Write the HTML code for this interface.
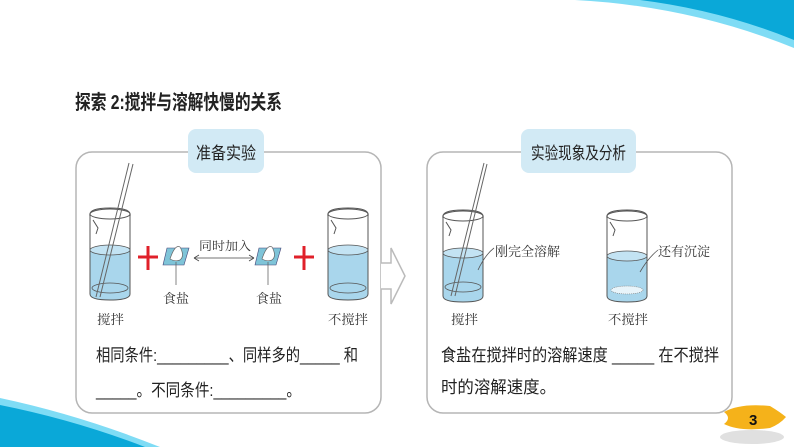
<!DOCTYPE html>
<html><head><meta charset="utf-8"><style>
html,body{margin:0;padding:0;background:#fff;}
svg{display:block;}
text{font-family:"Liberation Sans","Noto Sans CJK SC",sans-serif;fill:#222;}
.s{font-family:"Liberation Serif","Noto Serif CJK SC",serif;fill:#333;}
</style></head><body>
<svg width="794" height="447" viewBox="0 0 794 447" xmlns="http://www.w3.org/2000/svg">
<defs>
<g id="beaker">
  <path d="M0,8 Q-2,0 20,0 Q42,0 40,8 L40,86 Q40,92 20,92 Q0,92 0,86 Z" fill="none" stroke="#555" stroke-width="1"/>
  <ellipse cx="20" cy="6" rx="20" ry="5" fill="none" stroke="#555" stroke-width="1"/>
  <path d="M3,12 L8,20 L6,26" fill="none" stroke="#555" stroke-width="1"/>
</g>
</defs>
<path d="M575,0 Q690,6 794,48 L794,0 Z" fill="#7fdcf5"/>
<path d="M640,0 Q720,10 794,40 L794,0 Z" fill="#0aa8d8"/>
<path d="M0,398 Q80,415 160,447 L0,447 Z" fill="#7fdcf5"/>
<path d="M0,405 Q75,420 145,447 L0,447 Z" fill="#0aa8d8"/>

<text x="75" y="109" font-size="20" textLength="207" lengthAdjust="spacingAndGlyphs" font-weight="bold">探索 2:搅拌与溶解快慢的关系</text>

<rect x="76" y="152" width="305" height="261" rx="16" fill="#fff" stroke="#b5b5b5" stroke-width="1.5"/>
<rect x="427" y="152" width="305" height="261" rx="16" fill="#fff" stroke="#b5b5b5" stroke-width="1.5"/>
<rect x="188" y="129" width="76" height="44" rx="8" fill="#d2eaf5"/>
<rect x="521" y="129" width="115" height="44" rx="8" fill="#d2eaf5"/>
<text x="196" y="159" font-size="17" textLength="60" lengthAdjust="spacingAndGlyphs">准备实验</text>
<text x="531" y="159" font-size="17" textLength="95" lengthAdjust="spacingAndGlyphs">实验现象及分析</text>

<path d="M381,263 L391,263 L391,248 L405,276 L391,304 L391,289 L381,289" fill="#fff" stroke="#bbb" stroke-width="1.5"/>

<!-- left beakers -->
<path d="M90,250 L130,250 L130,294 Q130,300 110,300 Q90,300 90,294 Z" fill="#a9d6ec"/>
<use href="#beaker" x="90" y="208"/>
<ellipse cx="110" cy="250" rx="20" ry="5" fill="#c3e3f3" stroke="#555" stroke-width="0.8"/>
<ellipse cx="110" cy="288" rx="18" ry="5" fill="none" stroke="#555" stroke-width="0.8"/>
<path d="M129,163 L96,297 M133,164 L100,297" stroke="#666" stroke-width="1"/>
<path d="M328,250 L368,250 L368,294 Q368,300 348,300 Q328,300 328,294 Z" fill="#a9d6ec"/>
<use href="#beaker" x="328" y="208"/>
<ellipse cx="348" cy="250" rx="20" ry="5" fill="#c3e3f3" stroke="#555" stroke-width="0.8"/>
<ellipse cx="348" cy="288" rx="18" ry="5" fill="none" stroke="#555" stroke-width="0.8"/>

<path d="M138,257 L158,257 M148,246 L148,270" stroke="#e0202a" stroke-width="3"/>
<path d="M294,257 L314,257 M304,246 L304,270" stroke="#e0202a" stroke-width="3"/>

<path d="M167,248 L189,248 L184,265 L163,265 Z" fill="#7fc4d8" stroke="#447" stroke-width="0.6"/>
<path d="M170,259 Q175,244 180,247 Q185,256 180,260 Q175,262 170,259 Z" fill="#fff" stroke="#666" stroke-width="0.7"/>
<line x1="176" y1="262" x2="176" y2="285" stroke="#666" stroke-width="0.8"/>
<path d="M259,248 L281,248 L276,265 L255,265 Z" fill="#7fc4d8" stroke="#447" stroke-width="0.6"/>
<path d="M262,259 Q267,244 272,247 Q277,256 272,260 Q267,262 262,259 Z" fill="#fff" stroke="#666" stroke-width="0.7"/>
<line x1="268" y1="262" x2="268" y2="285" stroke="#666" stroke-width="0.8"/>
<line x1="194" y1="258" x2="254" y2="258" stroke="#444" stroke-width="0.8"/>
<path d="M194,258 L199,255 M194,258 L199,261 M254,258 L249,255 M254,258 L249,261" stroke="#444" stroke-width="0.8"/>
<text class="s" x="199" y="250" font-size="12" textLength="52" lengthAdjust="spacingAndGlyphs">同时加入</text>
<text class="s" x="163" y="303" font-size="13" textLength="26" lengthAdjust="spacingAndGlyphs">食盐</text>
<text class="s" x="256" y="303" font-size="13" textLength="26" lengthAdjust="spacingAndGlyphs">食盐</text>
<text class="s" x="97" y="324" font-size="13" textLength="27" lengthAdjust="spacingAndGlyphs">搅拌</text>
<text class="s" x="328" y="324" font-size="13" textLength="40" lengthAdjust="spacingAndGlyphs">不搅拌</text>

<text x="96" y="361" font-size="17" textLength="262" lengthAdjust="spacingAndGlyphs">相同条件:_________、同样多的_____ 和</text>
<text x="96" y="396" font-size="17" textLength="205" lengthAdjust="spacingAndGlyphs">_____。不同条件:_________。</text>

<!-- right beakers -->
<path d="M443,253 L483,253 L483,296 Q483,302 463,302 Q443,302 443,296 Z" fill="#a9d6ec"/>
<use href="#beaker" x="443" y="210"/>
<ellipse cx="463" cy="253" rx="20" ry="5" fill="#c3e3f3" stroke="#555" stroke-width="0.8"/>
<ellipse cx="463" cy="287" rx="18" ry="5" fill="none" stroke="#555" stroke-width="0.8"/>
<path d="M484,163 L451,296 M487,164 L455,296" stroke="#666" stroke-width="1"/>
<path d="M607,256 L647,256 L647,296 Q647,302 627,302 Q607,302 607,296 Z" fill="#a9d6ec"/>
<use href="#beaker" x="607" y="210"/>
<ellipse cx="627" cy="256" rx="20" ry="5" fill="#c3e3f3" stroke="#555" stroke-width="0.8"/>
<ellipse cx="627" cy="290" rx="16" ry="4" fill="#e8f4fa" stroke="#777" stroke-width="0.6" stroke-dasharray="1,1"/>
<path d="M478,270 Q485,255 494,248" fill="none" stroke="#555" stroke-width="0.8"/>
<path d="M640,272 Q648,258 658,250" fill="none" stroke="#555" stroke-width="0.8"/>
<text class="s" x="495" y="256" font-size="13" textLength="65" lengthAdjust="spacingAndGlyphs">刚完全溶解</text>
<text class="s" x="658" y="256" font-size="13" textLength="52" lengthAdjust="spacingAndGlyphs">还有沉淀</text>
<text class="s" x="451" y="324" font-size="13" textLength="27" lengthAdjust="spacingAndGlyphs">搅拌</text>
<text class="s" x="608" y="324" font-size="13" textLength="40" lengthAdjust="spacingAndGlyphs">不搅拌</text>

<text x="441" y="361" font-size="17" textLength="278" lengthAdjust="spacingAndGlyphs">食盐在搅拌时的溶解速度 _____ 在不搅拌</text>
<text x="441" y="393" font-size="17" textLength="115" lengthAdjust="spacingAndGlyphs">时的溶解速度。</text>

<ellipse cx="752" cy="437" rx="32" ry="7" fill="#ccc" opacity="0.6"/>
<path d="M724,412 Q740,403 770,406 Q780,412 786,417 Q780,424 770,428 Q740,432 724,424 Q732,418 724,412 Z" fill="#f5b21a"/>
<text x="749" y="425" font-size="15" font-weight="bold" style="fill:#111">3</text>
</svg>
</body></html>
